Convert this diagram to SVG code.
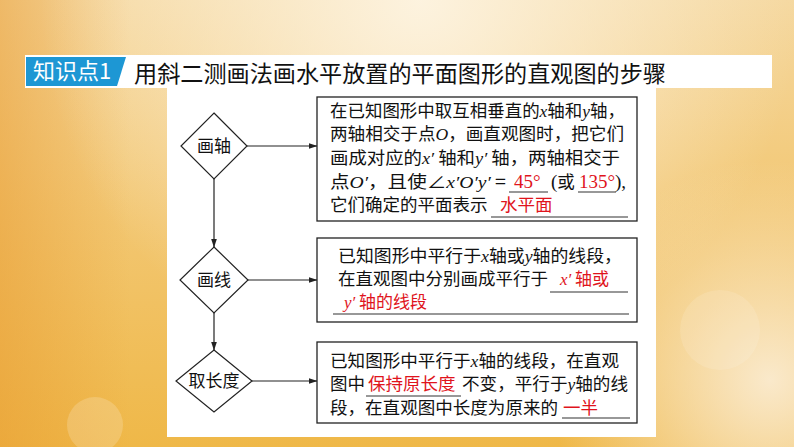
<svg xmlns="http://www.w3.org/2000/svg" width="794" height="447" viewBox="0 0 794 447">
<defs>
<linearGradient id="bgv" x1="0" y1="0" x2="0" y2="1">
<stop offset="0" stop-color="#f5d8a0"/>
<stop offset="0.5" stop-color="#f2c670"/>
<stop offset="1" stop-color="#efb848"/>
</linearGradient>
<radialGradient id="glowTop" cx="420" cy="0" r="380" gradientUnits="userSpaceOnUse">
<stop offset="0" stop-color="#fdf4e2" stop-opacity="0.95"/>
<stop offset="1" stop-color="#fdf4e2" stop-opacity="0"/>
</radialGradient>
<radialGradient id="glowRight" cx="770" cy="380" r="220" gradientUnits="userSpaceOnUse">
<stop offset="0" stop-color="#fbeed8" stop-opacity="0.9"/>
<stop offset="1" stop-color="#fbeed8" stop-opacity="0"/>
</radialGradient>
<linearGradient id="leftEdge" x1="0" y1="0" x2="1" y2="0">
<stop offset="0" stop-color="#e89a30" stop-opacity="0.5"/>
<stop offset="1" stop-color="#e89a30" stop-opacity="0"/>
</linearGradient>
<marker id="arr" markerWidth="9" markerHeight="6" refX="8.5" refY="3" orient="auto" markerUnits="userSpaceOnUse">
<path d="M0,0 L9,3 L0,6 Z" fill="#222"/>
</marker>
<style>
.bx{fill:#fff;stroke:#222;stroke-width:1.3}
.dm{fill:#fff;stroke:#222;stroke-width:1.2}
.cn{stroke:#222;stroke-width:1.2;fill:none}
.ul{stroke:#333;stroke-width:1.2}
.t{font-family:"Noto Sans CJK SC","Noto Sans CJK JP",sans-serif;font-size:17.5px;fill:#111}
.t2{font-size:17px}
.dt{font-family:"Noto Sans CJK SC","Noto Sans CJK JP",sans-serif;font-size:17px;fill:#111;text-anchor:middle}
.r{fill:#e0141c}
.i{font-family:"Liberation Serif",serif;font-style:italic}
.title{font-family:"Noto Sans CJK SC","Noto Sans CJK JP",sans-serif;font-size:23px;fill:#111}
.lab{font-family:"Noto Sans CJK SC","Noto Sans CJK JP",sans-serif;font-size:22px;fill:#fff}
</style>
</defs>
<g id="background">
<rect x="0" y="0" width="794" height="447" fill="url(#bgv)"/>
<rect x="0" y="0" width="130" height="447" fill="url(#leftEdge)"/>
<rect x="0" y="0" width="794" height="447" fill="url(#glowTop)"/>
<rect x="0" y="0" width="794" height="447" fill="url(#glowRight)"/>
<circle cx="95" cy="425" r="28" fill="#fff" opacity="0.18"/>
<circle cx="720" cy="330" r="40" fill="#fff" opacity="0.12"/>
</g>
<g id="title-bar">
<rect x="25" y="55" width="747" height="33" fill="#fff"/>
<polygon points="26,57 126,57 117,86 26,86" fill="#1d97d4"/>
<text class="lab" x="33" y="79">知识点1</text>
<text class="title" x="134" y="81.5" textLength="532" lengthAdjust="spacingAndGlyphs">用斜二测画法画水平放置的平面图形的直观图的步骤</text>
</g>
<rect id="panel" x="167" y="88" width="489" height="349" fill="#fff"/>
<g id="connectors">
<line class="cn" x1="247" y1="146" x2="317" y2="146" marker-end="url(#arr)"/>
<line class="cn" x1="214" y1="179" x2="214" y2="247" marker-end="url(#arr)"/>
<line class="cn" x1="248" y1="280" x2="317" y2="280" marker-end="url(#arr)"/>
<line class="cn" x1="214" y1="313" x2="214" y2="350" marker-end="url(#arr)"/>
<line class="cn" x1="252" y1="381" x2="317" y2="381" marker-end="url(#arr)"/>
</g>
<g id="node-huazhou">
<polygon class="dm" points="214,113 247,146 214,179 181,146"/>
<text class="dt" x="214" y="152">画轴</text>
</g>
<g id="node-huaxian">
<polygon class="dm" points="214,247 248,280 214,313 180,280"/>
<text class="dt" x="214" y="286">画线</text>
</g>
<g id="node-quchangdu">
<polygon class="dm" points="214,350 252,381 214,412 176,381"/>
<text class="dt" x="214" y="387">取长度</text>
</g>
<g id="box-1">
<rect class="bx" x="317" y="97" width="320" height="124"/>
<text class="t" x="330" y="116.5" textLength="295" lengthAdjust="spacingAndGlyphs">在已知图形中取互相垂直的<tspan class="i">x</tspan>轴和<tspan class="i">y</tspan>轴，</text>
<text class="t" x="330" y="139.5" textLength="294" lengthAdjust="spacingAndGlyphs">两轴相交于点<tspan class="i">O</tspan>，画直观图时，把它们</text>
<text class="t" x="330" y="163.5" textLength="290" lengthAdjust="spacingAndGlyphs">画成对应的<tspan class="i">x′</tspan> 轴和<tspan class="i">y′</tspan> 轴，两轴相交于</text>
<text class="t" x="330" y="187.5" textLength="176" lengthAdjust="spacingAndGlyphs">点<tspan class="i">O′</tspan>，且使∠<tspan class="i">x′O′y′</tspan> =</text>
<text class="t r" x="514" y="187.5" style="font-family:'Liberation Serif',serif;font-size:19px">45°</text>
<text class="t" x="551" y="187.5"><tspan style="font-family:'Liberation Serif',serif;font-size:19px">(</tspan>或</text>
<text class="t r" x="579" y="187.5" style="font-family:'Liberation Serif',serif;font-size:19px">135°</text>
<text class="t" x="615" y="187.5" style="font-family:'Liberation Serif',serif;font-size:19px">),</text>
<line class="ul" x1="509" y1="192" x2="548" y2="192"/>
<line class="ul" x1="578" y1="192" x2="616" y2="192"/>
<text class="t" x="330" y="210.5">它们确定的平面表示</text>
<text class="t r" x="500" y="210.5">水平面</text>
<line class="ul" x1="491" y1="217" x2="628" y2="217"/>
</g>
<g id="box-2">
<rect class="bx" x="317" y="238" width="320" height="84"/>
<text class="t t2" x="338" y="261.5" textLength="284" lengthAdjust="spacingAndGlyphs">已知图形中平行于<tspan class="i">x</tspan>轴或<tspan class="i">y</tspan>轴的线段，</text>
<text class="t t2" x="338" y="284.5" textLength="210" lengthAdjust="spacingAndGlyphs">在直观图中分别画成平行于</text>
<text class="t t2 r" x="560" y="284.5"><tspan class="i">x′</tspan> 轴或</text>
<line class="ul" x1="550" y1="292" x2="628" y2="292"/>
<text class="t t2 r" x="344" y="307.5"><tspan class="i">y′</tspan> 轴的线段</text>
<line class="ul" x1="333" y1="314" x2="629" y2="314"/>
</g>
<g id="box-3">
<rect class="bx" x="317" y="342" width="320" height="81"/>
<text class="t" x="330" y="366.5" textLength="289" lengthAdjust="spacingAndGlyphs">已知图形中平行于<tspan class="i">x</tspan>轴的线段，在直观</text>
<text class="t" x="330" y="389.5">图中</text>
<text class="t r" x="368" y="389.5">保持原长度</text>
<text class="t" x="462" y="389.5" textLength="166" lengthAdjust="spacingAndGlyphs">不变，平行于<tspan class="i">y</tspan>轴的线</text>
<line class="ul" x1="366" y1="396" x2="461" y2="396"/>
<text class="t" x="330" y="413.5" textLength="228" lengthAdjust="spacingAndGlyphs">段，在直观图中长度为原来的</text>
<text class="t r" x="563" y="413.5">一半</text>
<line class="ul" x1="562" y1="418" x2="630" y2="418"/>
</g>
</svg>
